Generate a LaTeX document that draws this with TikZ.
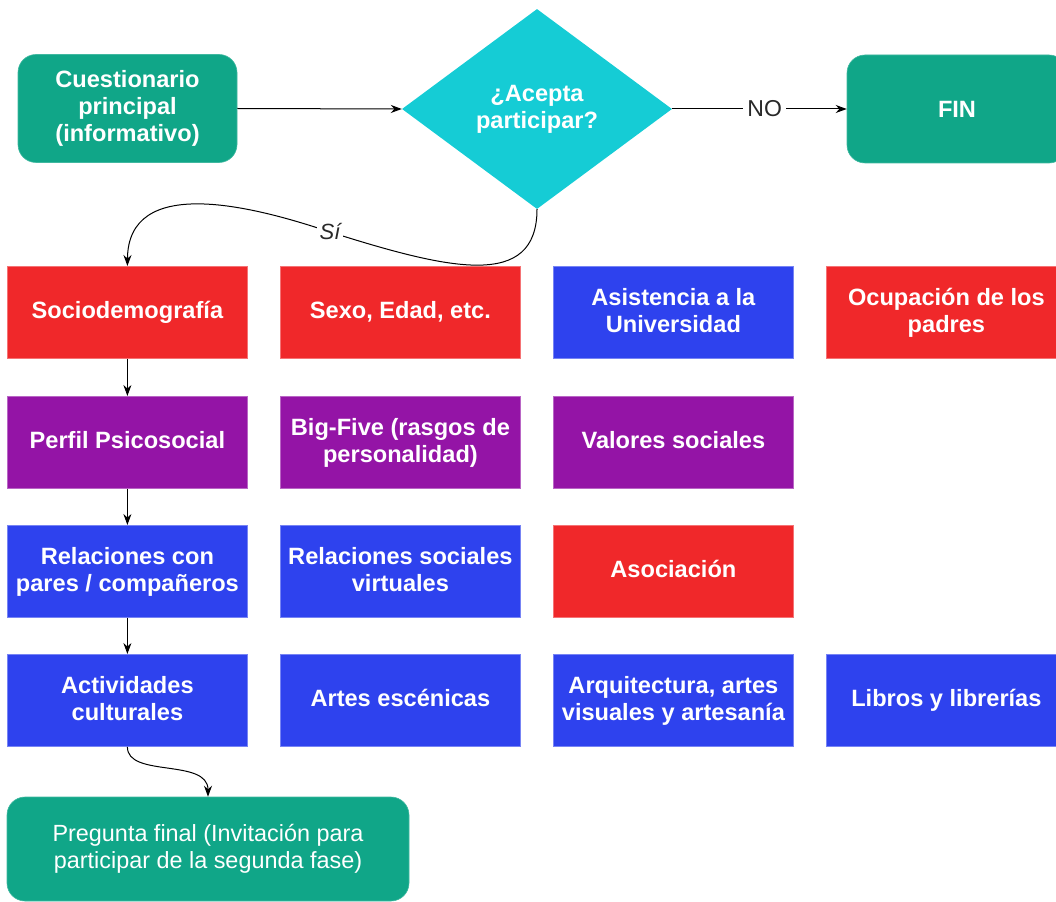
\documentclass[tikz,border=0pt]{standalone}
\usepackage{fontspec}
\setmainfont{Liberation Sans}
\usetikzlibrary{shapes.geometric,arrows.meta}
\definecolor{cgreen}{RGB}{16,166,136}
\definecolor{ccyan}{RGB}{21,204,213}
\definecolor{cred}{RGB}{240,40,42}
\definecolor{cblue}{RGB}{46,66,238}
\definecolor{cpurple}{RGB}{148,20,166}
\definecolor{ctext}{RGB}{40,40,40}
\begin{document}
\begin{tikzpicture}[x=1pt,y=-1pt,
  boxfont/.style={font=\fontsize{23.6}{27}\selectfont\bfseries},
  box/.style={anchor=north west, minimum width=240pt, minimum height=92pt, inner sep=0pt, align=center, text=white, boxfont,
    execute at end node={\rule[-4.8pt]{0pt}{1pt}}},
  redbox/.style={box, fill=cred, draw=cred!65!white, line width=0.8pt},
  bluebox/.style={box, fill=cblue, draw=cblue!65!white, line width=0.8pt},
  purplebox/.style={box, fill=cpurple, draw=cpurple!65!white, line width=0.8pt},
  roundbox/.style={rounded corners=18pt, fill=cgreen, draw=cgreen!80!white, line width=0.6pt, inner sep=0pt, align=center, text=white},
  decision/.style={diamond, fill=ccyan, minimum width=270pt, minimum height=200pt, inner sep=0pt, align=center, text=white, boxfont},
  arr/.style={-{Stealth[length=11pt,width=8pt]}, line width=1pt, black},
  lbl/.style={fill=white, inner sep=4pt, text=ctext, font=\fontsize{23}{27}\selectfont}
]
\useasboundingbox (0,0) rectangle (1056,901);

% top row
\node[roundbox, boxfont, minimum width=219pt, minimum height=108pt] (q) at (127.5,108.5) {Cuestionario\\principal\\(informativo)};
\node[decision] (d) at (537,109) {¿Acepta\\participar?};
\node[roundbox, boxfont, minimum width=220pt, minimum height=108pt] (fin) at (957,109) {FIN};

% row 1
\node[redbox] (s1) at (7,266) {Sociodemografía};
\node[redbox] (s2) at (280,266) {Sexo, Edad, etc.};
\node[bluebox] (s3) at (553,266) {Asistencia a la\\Universidad};
\node[redbox] (s4) at (826,266) {Ocupación de los\\padres};

% row 2
\node[purplebox] (p1) at (7,396) {Perfil Psicosocial};
\node[purplebox] (p2) at (280,396) {Big-Five (rasgos de\\personalidad)};
\node[purplebox] (p3) at (553,396) {Valores sociales};

% row 3
\node[bluebox] (r1) at (7,525) {Relaciones con\\pares / compañeros};
\node[bluebox] (r2) at (280,525) {Relaciones sociales\\virtuales};
\node[redbox] (r3) at (553,525) {Asociación};

% row 4
\node[bluebox] (a1) at (7,654) {Actividades\\culturales};
\node[bluebox] (a2) at (280,654) {Artes escénicas};
\node[bluebox] (a3) at (553,654) {Arquitectura, artes\\visuales y artesanía};
\node[bluebox] (a4) at (826,654) {Libros y librerías};

% final
\node[roundbox, font=\fontsize{23.4}{27}\selectfont, minimum width=402pt, minimum height=104pt,
  execute at begin node={\rule{0pt}{27pt}}] (pf) at (208,849) {Pregunta final (Invitación para\\participar de la segunda fase)};

% connectors
\draw[arr] (q.east) -- (d.west);
\draw[arr] (d.east) -- node[lbl, pos=0.53] {NO} (fin.west);
\draw[arr] (d.south) .. controls (537,290) and (450,270) .. (330,232)
  node[lbl, inner sep=3pt, font=\fontsize{22}{26}\selectfont\itshape] {Sí}
  .. controls (250,205) and (128,175) .. (s1.north);
\draw[arr] (s1.south) -- (p1.north);
\draw[arr] (p1.south) -- (r1.north);
\draw[arr] (r1.south) -- (a1.north);
\draw[arr] (a1.south) .. controls (127,778) and (208,758) .. (pf.north);
\end{tikzpicture}
\end{document}
